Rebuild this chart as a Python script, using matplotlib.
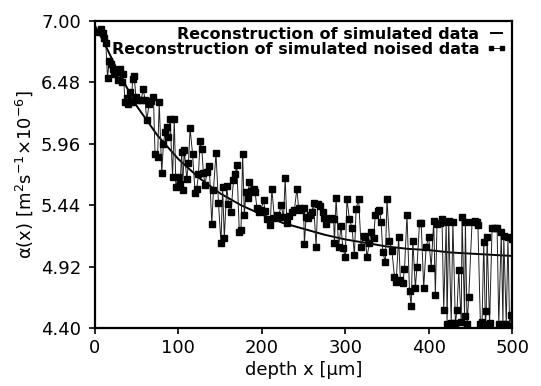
import numpy as np
import matplotlib
matplotlib.use('Agg')
import matplotlib.pyplot as plt

plt.rcParams['font.family'] = ['DejaVu Sans']
plt.rcParams['mathtext.fontset'] = 'dejavusans'

# reconstruction of simulated data (smooth curve)
x_sim = [0, 10, 25, 50, 75, 100, 125, 150, 175, 200, 225, 250, 275, 300,
         325, 350, 375, 400, 425, 450, 475, 500]
y_sim = [6.96, 6.83, 6.61, 6.28, 6.03, 5.83, 5.67, 5.54, 5.44, 5.36, 5.29,
         5.24, 5.19, 5.15, 5.12, 5.09, 5.07, 5.06, 5.04, 5.03, 5.02, 5.01]

# reconstruction of simulated noised data
x_noise = [5, 7, 9, 11, 13, 15, 17, 19, 21, 23, 26, 28, 30, 32, 34, 36, 38, 40,
           42, 44, 45, 47, 49, 52, 55, 58, 60, 62, 65, 67, 70, 72, 75, 77, 80,
           82, 84, 86, 88, 90, 93, 95, 97, 100, 102, 104, 105, 107, 110, 112,
           114, 117, 120, 122, 124, 126, 128, 130, 132, 134, 137, 140, 142, 145,
           148, 151, 153, 155, 158, 160, 163, 166, 168, 170, 173,
           175, 177, 179, 181, 183, 185, 187, 190, 192, 194, 196, 199, 202, 204,
           206, 210, 212, 215, 218, 220, 223, 226, 228, 230, 233, 236, 239, 242,
           244, 247, 250, 251, 253,
           255, 258, 260, 262, 265, 267, 270, 273, 275, 277, 280, 283, 286, 287,
           289, 292, 295, 297, 300, 302, 305, 308, 311, 313, 316, 319, 322, 324,
           326, 329, 331, 334, 336, 339,
           341, 343, 345, 348, 350, 353, 356, 359, 361, 364, 366, 369, 371, 374,
           377, 379, 381, 384, 386, 389, 391, 394, 397, 400, 403, 406, 408, 410,
           413, 416, 418, 421, 422,
           424, 427, 429, 432, 434, 436, 439, 440, 443, 444, 446, 448, 452, 455,
           458, 459, 462, 464, 466, 468, 469, 470, 473, 476, 479, 482, 484, 487,
           489, 490, 493, 495, 497, 499, 500]
y_noise = [6.91, 6.93, 6.90, 6.86, 6.81, 6.52, 6.66, 6.64, 6.59, 6.55, 6.57,
           6.50, 6.59, 6.48, 6.55, 6.31, 6.35, 6.30, 6.40, 6.31, 6.51, 6.53,
           6.36, 6.33, 6.33, 6.42, 6.33, 6.16, 6.30, 6.32, 6.36, 5.87, 5.85,
           6.31, 5.71,
           5.96, 6.06, 6.10, 6.02, 6.17, 5.68, 6.17, 5.59, 5.68, 5.62, 5.89,
           5.57, 5.91, 5.66, 5.80, 6.09, 5.87, 5.54, 5.58, 5.70, 5.98, 5.92,
           5.71, 5.61, 5.72, 5.77, 5.28, 5.57, 5.88, 5.46, 5.12, 5.59, 5.16,
           5.60, 5.45, 5.38, 5.65, 5.70, 5.78, 5.21,
           5.23, 5.87, 5.36, 5.55, 5.50, 5.64, 5.56, 5.58, 5.55, 5.42, 5.38,
           5.40, 5.48, 5.39, 5.32, 5.27, 5.58, 5.33, 5.36, 5.34, 5.44, 5.34,
           5.67, 5.29, 5.35, 5.38, 5.40, 5.58, 5.42, 5.40, 5.42, 5.11, 5.34,
           5.33, 5.36, 5.38, 5.46, 5.09, 5.45, 5.43, 5.38, 5.33, 5.28, 5.32,
           5.33, 5.32, 5.12, 5.50, 5.09, 5.26, 5.08, 5.00, 5.49, 5.32, 5.25,
           5.02, 5.41, 5.49, 5.09, 5.18, 5.17, 5.00, 5.12, 5.21, 5.16, 5.36,
           5.39,
           5.40, 5.30, 5.04, 4.96, 5.49, 5.14, 5.05, 4.83, 4.79, 5.17, 4.81,
           4.78, 4.90, 5.36, 4.71, 4.59, 5.14, 4.74, 4.92, 5.29, 5.29, 4.74,
           5.09, 5.17, 4.91, 5.31, 4.68, 5.28, 5.29, 5.32, 4.55, 5.30, 4.43,
           5.31, 4.44, 5.30, 4.44, 4.55, 4.89, 4.45, 5.34, 4.50, 5.30, 4.43,
           4.66, 5.30, 5.31, 5.30, 5.27, 4.43, 4.45, 5.13, 4.43, 4.54, 5.17,
           4.44, 5.25, 5.25, 5.25, 4.43, 5.21, 4.43, 5.18, 4.43, 5.17, 4.42,
           4.51, 5.15]

y_ticks = [4.40, 4.92, 5.44, 5.96, 6.48, 7.00]
x_ticks = [0, 100, 200, 300, 400, 500]

fig = plt.figure(figsize=(5.41, 3.86), dpi=100)
fig.patch.set_facecolor('white')
ax = fig.add_axes([0.1756, 0.1503, 0.771, 0.7953])

ax.plot(x_sim, y_sim, color='black', linewidth=1.4,
        label='Reconstruction of simulated data')
ax.plot(x_noise, y_noise, color='#222222', linewidth=0.7, marker='s',
        markersize=3.9, markerfacecolor='black', markeredgecolor='black',
        label='Reconstruction of simulated noised data')

ax.set_xlim(0, 500)
ax.set_ylim(4.40, 7.00)
ax.set_xticks(x_ticks)
ax.set_yticks(y_ticks)
ax.set_yticklabels(['%.2f' % v for v in y_ticks])

ax.tick_params(axis='both', direction='out', length=4, width=1.2,
               labelsize=13, colors='black')
ax.tick_params(axis='y', pad=6)
ax.tick_params(axis='x', pad=4)
for s in ax.spines.values():
    s.set_linewidth(1.6)
    s.set_color('black')

ax.set_xlabel('depth x [\u03bcm]', fontsize=13, labelpad=3)
ax.set_ylabel('\u03b1(x) [m$^{2}$s$^{-1}$\u00d710$^{-6}$]', fontsize=13,
              labelpad=4)

leg = ax.legend(loc='upper right', frameon=False, markerfirst=False,
                handlelength=1.3, handletextpad=0.4, labelspacing=0.0,
                numpoints=2, borderaxespad=0.0, borderpad=0.35,
                markerscale=0.6, prop={'weight': 'bold', 'size': 11.5})

fig.savefig('out.png', dpi=100)
